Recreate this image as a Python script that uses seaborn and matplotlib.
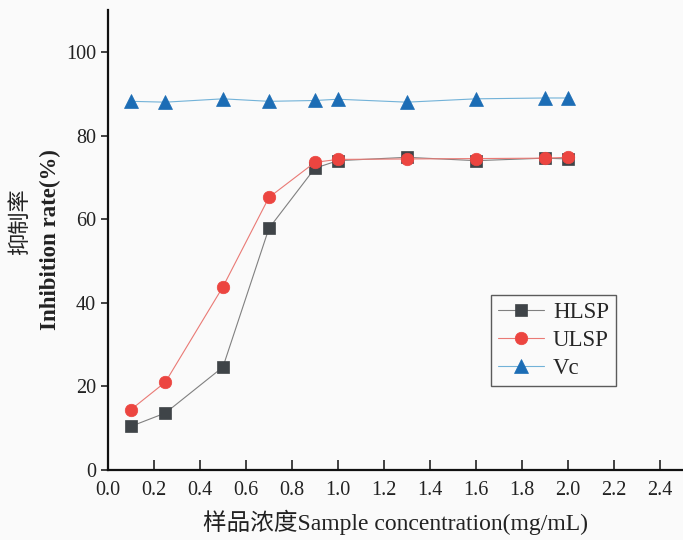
import matplotlib
matplotlib.use("Agg")
import matplotlib.pyplot as plt
import seaborn as sns
import pandas as pd

# data
conc = [0.1, 0.25, 0.5, 0.7, 0.9, 1.0, 1.3, 1.6, 1.9, 2.0]
hlsp = [10.4, 13.6, 24.6, 57.8, 72.2, 74.0, 74.8, 74.0, 74.6, 74.4]
ulsp = [14.4, 21.0, 43.8, 65.2, 73.6, 74.3, 74.4, 74.5, 74.6, 74.8]
vc = [88.2, 88.0, 88.8, 88.2, 88.4, 88.7, 88.0, 88.8, 89.0, 89.0]
series_names = ["HLSP", "ULSP", "Vc"]
xticks = [0.0, 0.2, 0.4, 0.6, 0.8, 1.0, 1.2, 1.4, 1.6, 1.8, 2.0, 2.2, 2.4]
yticks = [0, 20, 40, 60, 80, 100]

sns.set_theme(style="ticks")
plt.rcParams['font.family'] = ['Liberation Serif', 'Noto Sans CJK SC', 'DejaVu Sans']

fig = plt.figure(figsize=(6.83, 5.40), dpi=100, facecolor='#fafafa')
ax = fig.add_axes([0.158, 0.130, 0.842, 0.851])
ax.set_facecolor('#fafafa')

styles = [
    dict(marker='s', color='#808080', markerfacecolor='#3f4448', markeredgecolor='#3f4448', markersize=8),
    dict(marker='o', color='#ea7a75', markerfacecolor='#ec4540', markeredgecolor='#ec4540', markersize=9),
    dict(marker='^', color='#72b2d8', markerfacecolor='#1c6db5', markeredgecolor='#1c6db5', markersize=9.5),
]
for name, vals, st in zip(series_names, [hlsp, ulsp, vc], styles):
    df = pd.DataFrame({"x": conc, "y": vals})
    sns.lineplot(data=df, x="x", y="y", ax=ax, label=name, linewidth=0.8,
                 markeredgewidth=0.5, **st)

ax.set_xlim(0, 2.5)
ax.set_ylim(0, 110)
ax.set_xticks(xticks)
ax.set_xticklabels([f"{t:.1f}" for t in xticks])
ax.set_yticks(yticks)
ax.tick_params(axis='x', direction='in', length=7, width=1.2, labelsize=14.5, pad=8, colors='#222222')
ax.tick_params(axis='y', direction='out', length=5, width=1.2, labelsize=14.5, colors='#222222')
for s in ['top', 'right']:
    ax.spines[s].set_visible(False)
for s in ['left', 'bottom']:
    ax.spines[s].set_linewidth(1.6)
    ax.spines[s].set_color('#111111')

ax.set_xlabel("样品浓度Sample concentration(mg/mL)", fontsize=17, labelpad=7, color='#222222')
ax.set_ylabel("")
fig.text(21/683, 1 - 222/540, "抑制率", rotation=90, ha='center', va='center',
         fontsize=16, color='#222222')
fig.text(50/683, 1 - 240/540, "Inhibition rate(%)", rotation=90, ha='center', va='center',
         fontsize=16.5, fontweight='bold', color='#222222')

leg = ax.legend(loc='upper left', bbox_to_anchor=(491/683, 1 - 295/540),
                bbox_transform=fig.transFigure, fontsize=16.5, frameon=True,
                fancybox=False, edgecolor='#333333', handlelength=2.0,
                handletextpad=0.4, borderpad=0.3, labelspacing=0.3,
                borderaxespad=0)
leg.get_frame().set_linewidth(1.0)
leg.get_frame().set_facecolor('#fafafa')

fig.savefig("out.png", dpi=100, facecolor=fig.get_facecolor())
